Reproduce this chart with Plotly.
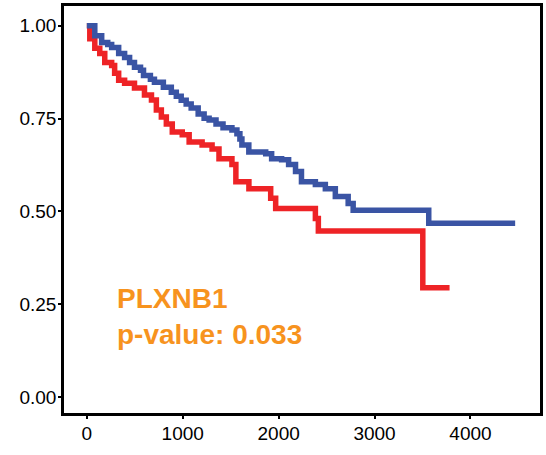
import plotly.graph_objects as go

# Kaplan-Meier estimates for the two PLXNB1 expression groups
high_time = [0, 31, 83, 135, 187, 259, 290, 332, 394, 497, 601, 674, 725, 777, 829, 891,
             995, 1067, 1202, 1306, 1378, 1513, 1554, 1690, 1917, 1969, 2383, 2414,
             3503, 3782]
high_surv = [1.0, 0.965, 0.939, 0.925, 0.901, 0.893, 0.872, 0.853, 0.845, 0.832, 0.813,
             0.800, 0.773, 0.754, 0.735, 0.714, 0.706, 0.687, 0.679, 0.668, 0.642, 0.626,
             0.580, 0.561, 0.535, 0.508, 0.481, 0.447, 0.294, 0.294]

low_time = [0, 83, 155, 218, 259, 332, 394, 446, 497, 560, 591, 663, 705, 798, 881, 933,
            984, 1036, 1088, 1161, 1223, 1275, 1347, 1420, 1513, 1565, 1596, 1617, 1689,
            1865, 1927, 2031, 2104, 2176, 2238, 2383, 2487, 2591, 2725, 2777, 3565, 4466]
low_surv = [1.0, 0.973, 0.955, 0.949, 0.941, 0.925, 0.914, 0.901, 0.888, 0.880, 0.866,
            0.856, 0.848, 0.834, 0.821, 0.810, 0.799, 0.789, 0.778, 0.762, 0.751, 0.746,
            0.735, 0.725, 0.719, 0.709, 0.695, 0.679, 0.660, 0.655, 0.642, 0.639, 0.626,
            0.607, 0.580, 0.572, 0.561, 0.540, 0.521, 0.503, 0.468, 0.468]

x_ticks = [0, 1000, 2000, 3000, 4000]
y_ticks = [0.0, 0.25, 0.5, 0.75, 1.0]
y_tick_text = ["0.00", "0.25", "0.50", "0.75", "1.00"]

gene = "PLXNB1"
p_value = "0.033"

FONT = "Liberation Sans, Arial, sans-serif"

fig = go.Figure()
fig.add_trace(go.Scatter(x=high_time, y=high_surv, mode="lines", line_shape="hv",
                         line=dict(color="#EE2326", width=5.5), showlegend=False))
fig.add_trace(go.Scatter(x=low_time, y=low_surv, mode="lines", line_shape="hv",
                         line=dict(color="#3A54A4", width=5.5), showlegend=False))

fig.add_annotation(x=290, y=0.218, xref="x", yref="y", xanchor="left", yanchor="middle",
                   align="left", showarrow=False,
                   text=f"<b>{gene}<br>p-value: {p_value}</b>",
                   font=dict(family=FONT, size=28, color="#F7931E"))

axis_common = dict(showline=True, linecolor="black", linewidth=2.5, mirror=True,
                   showgrid=False, zeroline=False, ticks="outside", ticklen=3,
                   tickwidth=1.5, tickcolor="black",
                   tickfont=dict(family=FONT, size=19, color="black"))

fig.update_xaxes(range=[-238, 4725], tickvals=x_ticks, ticklabelstandoff=-2,
                 **axis_common)
fig.update_yaxes(range=[-0.043, 1.053], tickvals=y_ticks, ticktext=y_tick_text,
                 ticklabelstandoff=-2, **axis_common)

fig.update_layout(width=546, height=455, margin=dict(l=64, r=3, t=3, b=42),
                  plot_bgcolor="white", paper_bgcolor="white")

fig.write_html("out.html")
